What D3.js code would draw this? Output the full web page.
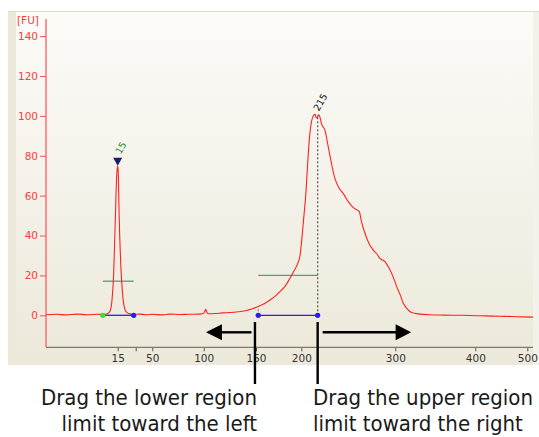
<!DOCTYPE html>
<html><head><meta charset="utf-8">
<script src="https://cdn.jsdelivr.net/npm/d3@7/dist/d3.min.js"></script>
<style>
html,body{margin:0;padding:0;background:#fff;}
svg{display:block;}
</style></head>
<body>
<svg id="chart" width="539" height="437"></svg>
<script>
// ---- data ----
const ladderBp = [15, 25, 50, 100, 150, 200, 300, 400, 500];
const ladderLabels = ["15", "", "50", "100", "150", "200", "300", "400", "500"];
const yTicks = [0, 20, 40, 60, 80, 100, 120, 140];
const traceBp = [1,3,5,7,9,11,12.1,13,13.5,13.9,14.2,14.5,14.8,15,15.3,15.8,16.5,17.2,18,19,20,22,24,31.5,40,50,60,67,77,85,96.4,100,101.9,103,104.4,110.8,118,125.2,133,141.1,146,152.5,159,165.5,171,176.5,182,187.5,191,194.9,198.6,201.3,203,204.7,206.5,208.5,211.1,213,214.6,215.7,216.7,217.8,218.8,220,221.5,225.2,228.7,230.5,235.8,240,244.7,250,255.3,261.7,264,267.8,272,276.6,280,283.7,289,294.4,297.9,301.75,305.9,310,314.25,320.5,330.9,343.4,360,385,400,420,447.5,470,490,511];
const traceFU = [0.3,0.5,0.2,0.6,0.3,0.5,0.4,0.8,2,8,20,45,70,75,72,50,30,17,8,3,1.5,0.7,0.4,0.6,0.3,0.5,0.2,0.6,0.4,0.5,0.6,1.0,3.0,1.5,0.8,0.9,1.2,1.4,1.8,2.4,3.2,4.4,5.8,7.7,9.5,11.9,14.5,18.6,21.5,24.8,30,42,51,60,74,88,97.7,100.2,100.8,99.3,99.0,100,100.6,99,96,92.7,84.4,80,68.5,64,61,57,54,52,47,41,36,32.7,31,28.5,26.9,22.7,19,14.4,10.5,6,3.5,1.4,0.6,0.25,0.1,0,-0.2,-0.3,-0.5,-0.6,-0.8,-0.9];
const peakNames = ["15", "215"];
const peakBp = [15, 217.4];
const peakFU = [75, 100.6];
const regionLowerBp = [12.1, 152.5];
const regionUpperBp = [23.9, 217.4];
const regionMarkerFU = [17.1, 20];
const lowerLimitFU = 4.4;
const noteLeft = ["Drag the lower region", "limit toward the left"];
const noteRight = ["Drag the upper region", "limit toward the right"];

// ---- scales ----
const svg = d3.select("#chart");
const x = d3.scaleLinear()
  .domain([1, 15, 25, 50, 100, 150, 200, 300, 400, 500, 511])
  .range([46, 117.7, 135.7, 152.3, 203.7, 256, 301.3, 395.3, 475.3, 527.3, 533]);
const y = d3.scaleLinear().domain([-15.9, 148.1]).range([347, 20]);

// ---- background ----
const defs = svg.append("defs");
const grad = defs.append("linearGradient").attr("id","bg").attr("x1",0).attr("y1",0).attr("x2",0).attr("y2",1);
grad.append("stop").attr("offset","0%").attr("stop-color","#fcfbf8");
grad.append("stop").attr("offset","100%").attr("stop-color","#ece9da");
svg.append("rect").attr("x",8).attr("y",11).attr("width",531).attr("height",354).attr("fill","#ece9d8");
svg.append("rect").attr("x",16).attr("y",12).attr("width",517).attr("height",353).attr("fill","url(#bg)");
svg.append("rect").attr("x",533).attr("y",11).attr("width",6).attr("height",354).attr("fill","#f3f1e9");
svg.append("line").attr("x1",8).attr("x2",539).attr("y1",11.5).attr("y2",11.5).attr("stroke","#dedbcd");

// ---- axes ----
const yAxis = d3.axisLeft(y).tickValues(yTicks).tickSize(6).tickPadding(2);
const gy = svg.append("g").attr("transform","translate(46,0)").call(yAxis);
gy.select(".domain").remove();
gy.selectAll(".tick line").attr("stroke","#ff5050");
gy.selectAll(".tick text").attr("fill","#ff3c3c").attr("font-family","'DejaVu Sans', sans-serif").attr("font-size",10.5);
svg.append("line").attr("x1",46).attr("x2",46).attr("y1",19).attr("y2",347).attr("stroke","#ff5050").attr("stroke-width",1.2);
svg.append("text").attr("x",17).attr("y",24).text("[FU]").attr("fill","#ff3c3c")
  .attr("font-family","'DejaVu Sans', sans-serif").attr("font-size",10.5);

const xAxis = d3.axisBottom(x).tickValues(ladderBp).tickFormat((d,i)=>ladderLabels[i]).tickSize(4).tickPadding(3);
const gx = svg.append("g").attr("transform","translate(0,347.3)").call(xAxis);
gx.select(".domain").remove();
gx.selectAll(".tick line").attr("stroke","#555");
gx.selectAll(".tick text").attr("fill","#333").attr("font-family","'DejaVu Sans', sans-serif").attr("font-size",10.5);
svg.append("line").attr("x1",46).attr("x2",533).attr("y1",347.3).attr("y2",347.3).attr("stroke","#7a7a7a").attr("stroke-width",1.2);

// ---- region markers ----
regionLowerBp.forEach((lo,i)=>{
  const hi = regionUpperBp[i];
  svg.append("line").attr("x1",x(lo)).attr("x2",x(hi)).attr("y1",y(regionMarkerFU[i])).attr("y2",y(regionMarkerFU[i]))
    .attr("stroke","#4f9e80").attr("stroke-width",1.3);
  svg.append("line").attr("x1",x(lo)).attr("x2",x(hi)).attr("y1",y(0)).attr("y2",y(0))
    .attr("stroke","#1e1eff").attr("stroke-width",1.3);
});
// dotted limit lines
svg.append("line").attr("x1",x(regionLowerBp[1])).attr("x2",x(regionLowerBp[1])).attr("y1",y(0)).attr("y2",y(lowerLimitFU))
  .attr("stroke","#777").attr("stroke-dasharray","2,2");
svg.append("line").attr("x1",x(peakBp[1])).attr("x2",x(peakBp[1])).attr("y1",y(0)).attr("y2",y(peakFU[1]))
  .attr("stroke","#555").attr("stroke-width",1.2).attr("stroke-dasharray","2,2");

// ---- trace ----
const pts = traceBp.map((b,i)=>[b, traceFU[i]]);
svg.append("path").datum(pts)
  .attr("d", d3.line().x(d=>x(d[0])).y(d=>y(d[1])).curve(d3.curveMonotoneX))
  .attr("fill","none").attr("stroke","#ff2020").attr("stroke-width",1.1);

// ---- dots ----
svg.append("circle").attr("cx",x(regionLowerBp[0])).attr("cy",y(0)).attr("r",2.6).attr("fill","#22ee22");
[regionUpperBp[0], regionLowerBp[1], regionUpperBp[1]].forEach(b=>{
  svg.append("circle").attr("cx",x(b)).attr("cy",y(0)).attr("r",2.6).attr("fill","#1e1eff");
});

// ---- peak labels ----
const tx = x(peakBp[0]), ty = y(peakFU[0]);
svg.append("path").attr("d",`M${tx-4.5},${ty-8} L${tx+4.5},${ty-8} L${tx},${ty} Z`).attr("fill","#1c1c6a");
svg.append("text").attr("transform",`translate(${tx+3},${ty-11}) rotate(-60)`)
  .text(peakNames[0]).attr("fill","#1a8a1a").attr("font-family","'DejaVu Sans', sans-serif").attr("font-size",9.5);
svg.append("text").attr("transform",`translate(${x(peakBp[1])+1},${y(peakFU[1])-3}) rotate(-60)`)
  .text(peakNames[1]).attr("fill","#111").attr("font-family","'DejaVu Sans', sans-serif").attr("font-size",9.5);

// ---- annotation arrows ----
const ay = 332.3;
const lx = x(regionLowerBp[1]) - 3.3, ux = x(regionUpperBp[1]);
svg.append("line").attr("x1",lx-3.5).attr("x2",lx-34).attr("y1",ay).attr("y2",ay).attr("stroke","#000").attr("stroke-width",2.4);
svg.append("path").attr("d",`M${lx-49},${ay} L${lx-33},${ay-8} L${lx-33},${ay+8} Z`).attr("fill","#000");
svg.append("line").attr("x1",ux+5).attr("x2",ux+82).attr("y1",ay).attr("y2",ay).attr("stroke","#000").attr("stroke-width",2.4);
svg.append("path").attr("d",`M${ux+93.5},${ay} L${ux+78},${ay-8} L${ux+78},${ay+8} Z`).attr("fill","#000");
[lx, ux].forEach(xx=>{
  svg.append("line").attr("x1",xx).attr("x2",xx).attr("y1",322).attr("y2",384).attr("stroke","#000").attr("stroke-width",2.4);
});

// ---- notes ----
const fontNote = "'DejaVu Sans Condensed', 'DejaVu Sans', sans-serif";
noteLeft.forEach((t,i)=>{
  svg.append("text").attr("x",257).attr("y",404.5+i*26).attr("text-anchor","end").text(t)
    .attr("font-family",fontNote).attr("font-size",22).attr("fill","#1a1a1a");
});
noteRight.forEach((t,i)=>{
  svg.append("text").attr("x",313).attr("y",404.5+i*26).attr("text-anchor","start").text(t)
    .attr("font-family",fontNote).attr("font-size",22).attr("fill","#1a1a1a");
});
</script>
</body></html>
